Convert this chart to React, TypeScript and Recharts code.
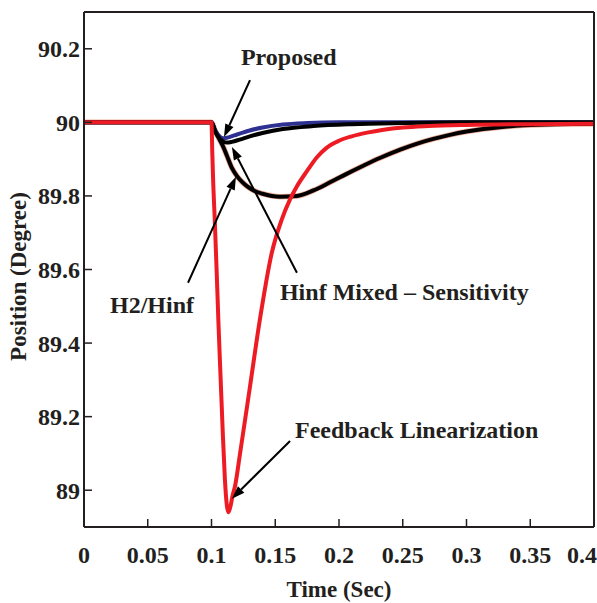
import React from 'react'
import { LineChart, Line, XAxis, YAxis, ReferenceLine, ReferenceDot } from 'recharts'

// time axis ticks and position ticks
const xTicks = [0, 0.05, 0.1, 0.15, 0.2, 0.25, 0.3, 0.35, 0.4]
const yTicks = [89, 89.2, 89.4, 89.6, 89.8, 90, 90.2]

// Feedback Linearization (red)
const fbT = [0, 0.1, 0.1006, 0.1014, 0.1025, 0.104, 0.1055, 0.1072, 0.1088, 0.1105, 0.112, 0.1133, 0.1148, 0.1165, 0.1184, 0.1224, 0.1302, 0.138, 0.1472, 0.155, 0.1615, 0.1668, 0.175, 0.1827, 0.19, 0.2, 0.21, 0.222, 0.235, 0.25, 0.27, 0.3, 0.35, 0.4]
const fbY = [90, 90, 89.92, 89.83, 89.74, 89.6, 89.45, 89.3, 89.16, 89.03, 88.96, 88.94, 88.955, 88.985, 89.01, 89.1, 89.282, 89.465, 89.644, 89.735, 89.79, 89.825, 89.868, 89.905, 89.93, 89.95, 89.962, 89.972, 89.98, 89.986, 89.99, 89.993, 89.995, 89.996]

// Proposed (blue)
const prT = [0, 0.1, 0.102, 0.104, 0.106, 0.108, 0.11, 0.114, 0.12, 0.13, 0.14, 0.156, 0.175, 0.2, 0.25, 0.3, 0.4]
const prY = [90, 90, 89.985, 89.972, 89.963, 89.958, 89.957, 89.96, 89.967, 89.978, 89.986, 89.994, 89.998, 90, 90, 90, 90]

// H2/Hinf (black)
const h2T = [0, 0.1, 0.103, 0.106, 0.109, 0.112, 0.116, 0.122, 0.13, 0.14, 0.156, 0.18, 0.21, 0.25, 0.3, 0.4]
const h2Y = [90, 90, 89.975, 89.958, 89.948, 89.945, 89.947, 89.953, 89.962, 89.971, 89.982, 89.99, 89.995, 89.998, 90, 90]

// Hinf Mixed - Sensitivity (black)
const msT = [0, 0.1, 0.103, 0.106, 0.109, 0.112, 0.116, 0.12, 0.124, 0.128, 0.133, 0.14, 0.1537, 0.167, 0.18, 0.193, 0.206, 0.219, 0.232, 0.248, 0.262, 0.274, 0.287, 0.3, 0.313, 0.326, 0.345, 0.37, 0.4]
const msY = [90, 90, 89.975, 89.955, 89.935, 89.91, 89.876, 89.854, 89.838, 89.826, 89.815, 89.806, 89.798, 89.8, 89.815, 89.837, 89.86, 89.882, 89.903, 89.926, 89.943, 89.955, 89.966, 89.975, 89.982, 89.987, 89.992, 89.995, 89.996]

// annotations: label, text anchor point, arrow tail, arrow head (data units)
const notes = [
  { text: 'Proposed', tx: 0.1231, ty: 90.156, ax: 0.1302, ay: 90.115, hx: 0.1098, hy: 89.96 },
  { text: 'H2/Hinf', tx: 0.0204, ty: 89.482, ax: 0.0816, ay: 89.564, hx: 0.1192, hy: 89.852 },
  { text: 'Hinf Mixed \u2013 Sensitivity', tx: 0.1537, ty: 89.517, ax: 0.167, ay: 89.591, hx: 0.116, hy: 89.933 },
  { text: 'Feedback Linearization', tx: 0.1655, ty: 89.142, ax: 0.1616, ay: 89.134, hx: 0.116, hy: 88.977 },
]

const toRows = (t: number[], y: number[]) => t.map((v, i) => ({ t: v, y: y[i] }))

const font = '"Liberation Serif", "Times New Roman", serif'
const ink = '#231f20'

function arrowShape(p: any) {
  const { x1, y1, x2, y2 } = p
  const a = Math.atan2(y2 - y1, x2 - x1)
  const len = 13
  const half = 4.5
  const bx = x2 - len * Math.cos(a)
  const by = y2 - len * Math.sin(a)
  const pts = [
    [x2, y2],
    [bx + half * Math.sin(a), by - half * Math.cos(a)],
    [bx - half * Math.sin(a), by + half * Math.cos(a)],
  ]
  return (
    <g>
      <line x1={x1} y1={y1} x2={bx} y2={by} stroke="#000" strokeWidth={2} />
      <polygon points={pts.map((q) => q.join(',')).join(' ')} fill="#000" />
    </g>
  )
}

function YTitle(props: any) {
  const vb = props.viewBox
  const cx = vb.x + 26
  const cy = vb.y + vb.height / 2 + 7
  return (
    <text x={cx} y={cy} transform={`rotate(-90 ${cx} ${cy})`} textAnchor="middle"
      fontFamily={font} fontWeight={700} fontSize={23} fill={ink}>
      Position (Degree)
    </text>
  )
}

function XTitle(props: any) {
  const vb = props.viewBox
  return (
    <text x={vb.x + vb.width / 2} y={597} textAnchor="middle"
      fontFamily={font} fontWeight={700} fontSize={23} fill={ink}>
      Time (Sec)
    </text>
  )
}

export default function App() {
  const tickStyle = { fontSize: 24, fontWeight: 700, fontFamily: font, fill: ink }
  const axisLine = { stroke: ink, strokeWidth: 2 }
  const msRows = toRows(msT, msY)
  return (
    <div style={{ position: 'absolute', left: 0, top: 0, width: 597, height: 603, background: '#fff' }}>
      <LineChart width={597} height={603} margin={{ top: 11, right: 2, left: 0, bottom: 0 }}>
        <XAxis xAxisId="b" type="number" dataKey="t" domain={[0, 0.4]} ticks={xTicks}
          height={76} tickSize={-8} tickMargin={27} tick={tickStyle}
          axisLine={axisLine} tickLine={{ stroke: ink, strokeWidth: 1.5 }} label={XTitle} />
        <XAxis xAxisId="top" orientation="top" type="number" domain={[0, 0.4]} ticks={xTicks}
          height={1} tickSize={-8} tick={false} axisLine={axisLine} tickLine={{ stroke: ink, strokeWidth: 1.5 }} />
        <YAxis yAxisId="l" type="number" domain={[88.9, 90.3]} ticks={yTicks} width={84}
          tickSize={-8} tickMargin={12} tick={tickStyle} axisLine={axisLine}
          tickLine={{ stroke: ink, strokeWidth: 1.5 }} label={YTitle} />
        <YAxis yAxisId="r" orientation="right" type="number" domain={[88.9, 90.3]} ticks={yTicks}
          width={1} tickSize={-8} tick={false} axisLine={axisLine} tickLine={{ stroke: ink, strokeWidth: 1.5 }} />

        {/* thin salmon edge under the mixed-sensitivity curve, as in the scan */}
        <Line xAxisId="b" yAxisId="l" data={msRows} dataKey="y" type="monotone"
          stroke="#e8967a" strokeWidth={5.5} strokeOpacity={0.8} dot={false} isAnimationActive={false} />
        <Line xAxisId="b" yAxisId="l" data={msRows} dataKey="y" type="monotone"
          stroke="#000" strokeWidth={4} dot={false} isAnimationActive={false} />
        <Line xAxisId="b" yAxisId="l" data={toRows(prT, prY)} dataKey="y" type="monotone"
          stroke="#2e3192" strokeWidth={4} dot={false} isAnimationActive={false} />
        <Line xAxisId="b" yAxisId="l" data={toRows(h2T, h2Y)} dataKey="y" type="monotone"
          stroke="#000" strokeWidth={4} dot={false} isAnimationActive={false} />
        <Line xAxisId="b" yAxisId="l" data={toRows(fbT, fbY)} dataKey="y" type="monotone"
          stroke="#ed1c24" strokeWidth={4} dot={false} isAnimationActive={false} />

        {notes.map((n) => (
          <ReferenceLine key={'a' + n.text} xAxisId="b" yAxisId="l"
            segment={[{ x: n.ax, y: n.ay }, { x: n.hx, y: n.hy }]} shape={arrowShape} />
        ))}
        {notes.map((n) => (
          <ReferenceDot key={'t' + n.text} xAxisId="b" yAxisId="l" x={n.tx} y={n.ty} r={0}
            shape={(p: any) => (
              <text x={p.cx} y={p.cy} fontFamily={font} fontWeight={700} fontSize={24} fill={ink}>
                {n.text}
              </text>
            )} />
        ))}
      </LineChart>
    </div>
  )
}
